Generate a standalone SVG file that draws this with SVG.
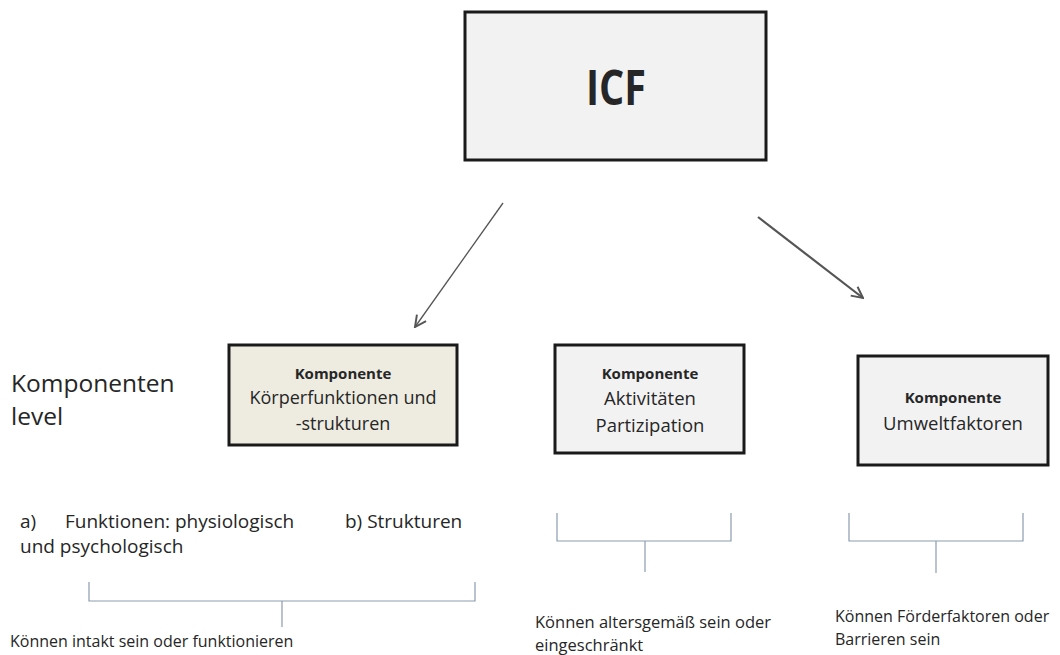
<svg xmlns="http://www.w3.org/2000/svg" width="1060" height="655" viewBox="0 0 1060 655">
<defs>
<style>
.t{font-family:"Open Sans","Noto Sans",sans-serif;fill:#262626}
.box{stroke:#1a1a1a;stroke-width:3}
.br{fill:none;stroke:#8c9bb0;stroke-width:1.2}
.ar{stroke:#555;fill:none}
</style>
<marker id="ah" viewBox="0 0 10 10" refX="9" refY="5" markerWidth="14" markerHeight="14" markerUnits="userSpaceOnUse" orient="auto">
<path d="M1,1 L9,5 L1,9" fill="none" stroke="#555" stroke-width="1.4"/>
</marker>
</defs>
<rect width="1060" height="655" fill="#ffffff"/>
<g id="icf">
<rect class="box" x="465" y="12" width="301" height="148" fill="#f2f2f2"/>
<text class="t" x="616" y="105" font-size="48" font-weight="bold" text-anchor="middle" fill="#111" textLength="60" lengthAdjust="spacingAndGlyphs">ICF</text>
</g>
<g id="connectors">
<line class="ar" x1="503" y1="203" x2="415" y2="327" stroke-width="1.3" marker-end="url(#ah)"/>
<line class="ar" x1="758" y1="217" x2="863" y2="298" stroke-width="2.2" stroke="#444" marker-end="url(#ah)"/>
</g>
<g id="label-level">
<text class="t" x="11" y="392" font-size="24.5">Komponenten</text>
<text class="t" x="11" y="425" font-size="24.5">level</text>
</g>
<g id="koerper">
<rect class="box" x="229" y="345" width="228" height="100" fill="#eeece1"/>
<text class="t" x="343" y="379" font-size="15" font-weight="bold" text-anchor="middle">Komponente</text>
<text class="t" x="343" y="404" font-size="18" text-anchor="middle">Körperfunktionen und</text>
<text class="t" x="343" y="430" font-size="18" text-anchor="middle">-strukturen</text>
</g>
<g id="aktivitaeten">
<rect class="box" x="555" y="345" width="189" height="108" fill="#f2f2f2"/>
<text class="t" x="650" y="379" font-size="15" font-weight="bold" text-anchor="middle">Komponente</text>
<text class="t" x="650" y="405" font-size="18.5" text-anchor="middle">Aktivitäten</text>
<text class="t" x="650" y="432" font-size="18.5" text-anchor="middle">Partizipation</text>
</g>
<g id="umwelt">
<rect class="box" x="858" y="356" width="190" height="109" fill="#f2f2f2"/>
<text class="t" x="953" y="403" font-size="15" font-weight="bold" text-anchor="middle">Komponente</text>
<text class="t" x="953" y="430" font-size="18.5" text-anchor="middle">Umweltfaktoren</text>
</g>
<g id="funktionen">
<text class="t" x="20" y="528" font-size="19"><tspan>a)</tspan><tspan x="65">Funktionen: physiologisch</tspan><tspan x="345">b) Strukturen</tspan></text>
<text class="t" x="20" y="553" font-size="19">und psychologisch</text>
</g>
<g id="brackets">
<path class="br" d="M89,582 V601 H475 V582 M282,601 V627"/>
<path class="br" d="M557,513 V541 H731 V513 M645,541 V572"/>
<path class="br" d="M849,513 V541 H1023 V513 M936,541 V573"/>
</g>
<g id="notes">
<text class="t" x="10" y="647" font-size="16">Können intakt sein oder funktionieren</text>
<text class="t" x="535" y="628" font-size="16.5">Können altersgemäß sein oder</text>
<text class="t" x="535" y="651" font-size="16.5">eingeschränkt</text>
<text class="t" x="835" y="622" font-size="16">Können Förderfaktoren oder</text>
<text class="t" x="835" y="645" font-size="16">Barrieren sein</text>
</g>
</svg>
